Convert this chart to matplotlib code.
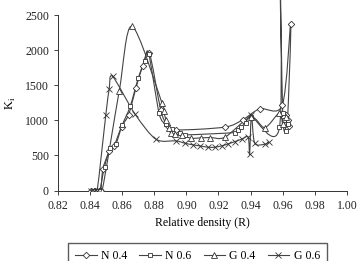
import numpy as np
import matplotlib.pyplot as plt
from matplotlib.path import Path
from matplotlib.patches import PathPatch, Rectangle
from matplotlib.lines import Line2D

# relative density (R) and K_i values
n04_r = [0.8405, 0.8430, 0.8455, 0.8467, 0.8480, 0.8520, 0.8550, 0.8596, 0.8640, 0.8686,
         0.8727, 0.8769, 0.8840, 0.8880, 0.8936, 0.9238, 0.9350, 0.9456, 0.9598, 0.9650,
         0.9630, 0.9620, 0.9640, 0.9610]
n04_k = [0, 0, 0, 0, 310, 560, 640, 910, 1080, 1460,
         1770, 1960, 1150, 940, 864, 903, 1007, 1164, 1221, 2379,
         1000, 1080, 920, 1050]

n06_r = [0.8420, 0.8445, 0.8460, 0.8490, 0.8525, 0.8560, 0.8600, 0.8650, 0.8700, 0.8740,
         0.8765, 0.8830, 0.8870, 0.8910, 0.8960, 0.8990, 0.9300, 0.9320, 0.9340, 0.9370,
         0.9404, 0.9580, 0.9580, 0.9600, 0.9620, 0.9610, 0.9630]
n06_k = [0, 0, 0, 340, 600, 660, 930, 1200, 1600, 1850,
         1950, 1100, 950, 870, 820, 793, 826, 864, 911, 960,
         1054, 900, 3500, 1100, 850, 1000, 950]

g04_r = [0.8425, 0.8445, 0.8475, 0.8581, 0.8661, 0.8848, 0.8858, 0.8873, 0.8889, 0.8904,
         0.8930, 0.8970, 0.9030, 0.9090, 0.9150, 0.9240, 0.9400, 0.9488, 0.9580, 0.9600,
         0.9620]
g04_k = [0, 0, 0, 1411, 2340, 1246, 1126, 1007, 889, 817,
         800, 790, 745, 750, 755, 760, 1046, 897, 1107, 950,
         1050]

g06_r = [0.8404, 0.8425, 0.8444, 0.8498, 0.8519, 0.8540, 0.8680, 0.8810, 0.8936, 0.8990,
         0.9042, 0.9083, 0.9135, 0.9177, 0.9219, 0.9260, 0.9302, 0.9344, 0.9385, 0.9394,
         0.9405, 0.9425, 0.9488, 0.9514]
g06_k = [0, 0, 0, 1079, 1446, 1626, 1089, 731, 707, 674,
         650, 636, 617, 617, 636, 664, 697, 731, 760, 517,
         1080, 680, 660, 690]

series = [("N 0.4", n04_r, n04_k, "D", 3.3),
          ("N 0.6", n06_r, n06_k, "s", 3.3),
          ("G 0.4", g04_r, g04_k, "^", 3.7),
          ("G 0.6", g06_r, g06_k, "x", 4.3)]

LINE_C = '#444444'
MARK_C = '#333333'


def smooth_path(ax, x, y, tension=0.45):
    # excel-style smoothed line, bezier control points worked out in screen space
    trans = ax.transData
    pts = trans.transform(np.column_stack([x, y]))
    n = len(pts)
    verts = [pts[0]]
    codes = [Path.MOVETO]
    for i in range(n - 1):
        p0 = pts[max(i - 1, 0)]
        p1 = pts[i]
        p2 = pts[i + 1]
        p3 = pts[min(i + 2, n - 1)]
        verts += [p1 + (p2 - p0) * tension / 3, p2 - (p3 - p1) * tension / 3, p2]
        codes += [Path.CURVE4] * 3
    verts = trans.inverted().transform(np.array(verts))
    return Path(verts, codes)


plt.rcParams['font.family'] = ['Liberation Serif', 'DejaVu Serif']

fig = plt.figure(figsize=(3.58, 2.61), dpi=100)
ax = fig.add_axes([0.162, 0.270, 0.807, 0.6725])
ax.set_xlim(0.82, 1.00)
ax.set_ylim(0, 2500)

# clip lines at the x axis but let the off-scale spike run up past the top
clip_box = Rectangle((0, 0), 1, 3, transform=ax.transAxes, fc='none', ec='none')

handles = []
for name, r, k, m, ms in series:
    patch = PathPatch(smooth_path(ax, r, k), fc='none', ec=LINE_C, lw=0.8)
    ax.add_patch(patch)
    patch.set_clip_path(clip_box)
    ax.plot(r, k, ls='none', marker=m, ms=ms, mfc='white', mec=MARK_C, mew=0.6, zorder=3)
    handles.append(Line2D([], [], color=LINE_C, lw=0.8, marker=m, ms=ms, mfc='white',
                          mec=MARK_C, mew=0.6, label=name))

xt = np.arange(0.82, 1.001, 0.02)
ax.set_xticks(xt)
ax.set_xticklabels([f"{v:.2f}" for v in xt])
ax.set_yticks(range(0, 2501, 500))
ax.tick_params(direction='out', length=3, width=0.6, labelsize=8.5, colors='#222222')
for s in ['top', 'right']:
    ax.spines[s].set_visible(False)
for s in ['left', 'bottom']:
    ax.spines[s].set_linewidth(0.7)
    ax.spines[s].set_color('#333333')

ax.set_xlabel("Relative density (R)", fontsize=8.5, labelpad=4)
ax.set_ylabel("K$_\\mathregular{i}$", fontsize=9, labelpad=5)

fig.legend(handles=handles, loc='upper center', bbox_to_anchor=(0.552, 0.09), ncol=4,
           fontsize=8.5, frameon=True, fancybox=False, edgecolor='#333333',
           handlelength=1.8, handletextpad=0.4, columnspacing=1.0, borderpad=0.6)

fig.savefig("out.png", dpi=100)
